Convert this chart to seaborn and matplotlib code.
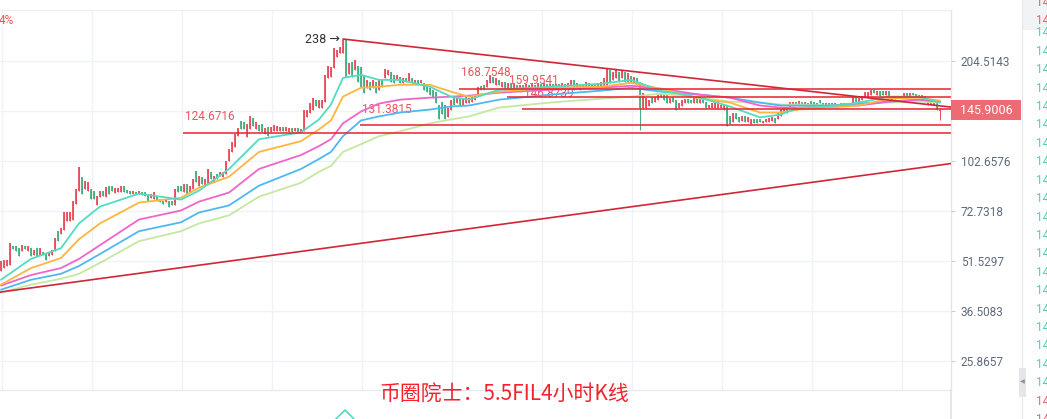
import matplotlib
matplotlib.use("Agg")
import matplotlib.pyplot as plt
from matplotlib.patches import Rectangle
from matplotlib.lines import Line2D
from matplotlib.ticker import NullLocator
import numpy as np
import pandas as pd
import seaborn as sns

# ---- FIL 4h candles ----
opens = [
    48.1, 49.1, 49.8, 50.2, 57.1, 57.1, 56.3, 55.2, 57.1, 55.2,
    56.3, 53.7, 56.3, 53.7, 54.8, 54.4, 53.3, 53.7, 55.2, 63.3,
    62.0, 63.7, 67.7, 67.7, 68.2, 76.6, 83.7, 92.1, 84.8, 83.7,
    84.8, 83.7, 75.6, 80.3, 83.7, 80.3, 86.6, 86.6, 82.6, 83.2,
    83.2, 86.6, 84.3, 83.7, 82.0, 83.2, 82.0, 83.2,
    83.2, 82.0, 79.7, 79.2, 80.3, 79.2, 78.2, 77.6, 78.2, 78.2,
    75.6, 86.6, 86.6, 83.2, 87.8, 83.2, 84.8, 95.9, 86.6, 92.1,
    86.6, 87.8, 95.3, 89.0, 94.0, 92.7, 92.1, 94.0, 102.7, 109.3,
    113.0, 121.8, 134.9, 134.0, 121.0, 127.7, 137.7, 127.7, 131.3, 132.2,
    123.4, 129.5, 125.1, 126.0, 126.0, 126.0, 129.5, 126.0, 125.1, 128.6,
    126.0, 128.6, 125.1, 126.0, 138.7, 143.4, 146.4, 156.7, 148.4, 148.4,
    154.6, 182.1, 183.4, 195.0, 210.1, 215.9, 215.9, 235.9, 187.2, 203.1,
    192.3, 198.3, 196.3, 185.9, 170.1, 177.2, 170.1, 177.2, 167.8, 179.6,
    182.1, 186.0, 189.8, 186.0, 179.6, 183.4, 176.0, 182.1, 177.2, 182.1,
    176.0, 179.6, 176.0, 176.0, 173.6, 170.1, 167.8, 165.6, 151.5, 154.6,
    151.5, 138.7, 146.4, 160.0, 153.6, 158.9, 151.5, 153.6, 153.6, 154.6,
    156.7, 162.2, 172.5, 173.6, 171.3, 176.0, 183.4, 173.6, 179.6, 171.3,
    177.2, 170.1, 176.0, 170.1, 173.6, 170.1, 173.6, 169.0, 173.6, 170.1,
    173.6, 170.1, 174.8, 170.1, 174.8, 170.1, 174.8, 170.1, 174.8, 170.1,
    174.8, 170.1, 172.5, 179.6, 170.1, 173.6, 170.1, 170.1, 176.0, 170.1,
    174.8, 171.3, 171.3, 172.5, 171.3, 192.3, 179.6, 182.1, 189.8, 182.1,
    189.8, 177.2, 184.7, 176.0, 182.1, 177.2, 148.4, 148.4, 149.5, 160.0,
    154.6, 156.7, 164.4, 164.4, 162.2, 153.6, 160.0, 156.7, 148.4, 149.5,
    153.6, 157.8, 156.7, 153.6, 158.9, 153.6, 157.8, 154.6, 148.4, 148.4,
    148.4, 148.4, 148.4, 146.4, 149.5, 139.6, 133.9, 143.4, 138.7, 134.9,
    139.6, 133.9, 132.2, 136.7, 136.7, 136.7, 133.1, 133.9, 133.9, 134.9,
    137.7, 136.7, 139.6, 143.4, 148.4, 148.4, 149.5, 154.6, 151.5, 154.6,
    151.5, 153.6, 155.6, 154.6, 150.5, 156.7, 153.6, 149.5, 153.6, 149.5,
    149.5, 149.5, 153.6, 149.5, 153.6, 150.5, 151.5, 160.0, 154.6, 156.7,
    160.0, 160.0, 162.2, 167.8, 162.2, 166.7, 166.7, 162.2, 166.7, 161.1,
    157.8, 161.1, 161.1, 160.0, 164.4, 160.0, 164.4, 163.3, 162.2, 162.2,
    161.1, 151.5, 151.5, 151.5, 154.6, 145.0,
]
closes = [
    51.6, 51.9, 51.9, 58.3, 55.9, 55.2, 53.3, 57.5, 55.9, 57.1,
    53.3, 55.6, 53.3, 56.3, 53.7, 51.9, 54.8, 55.6, 60.3, 59.1,
    64.6, 72.5, 72.5, 72.5, 78.2, 84.8, 98.6, 82.0, 89.6, 89.0,
    79.2, 79.2, 80.8, 83.7, 80.8, 86.0, 82.0, 83.7, 85.4, 85.4,
    86.6, 83.2, 82.6, 82.0, 83.7, 82.0, 83.7, 81.4,
    80.8, 78.2, 82.0, 83.2, 78.2, 77.6, 76.6, 79.2, 75.0, 75.6,
    84.8, 83.2, 83.7, 87.8, 82.0, 86.6, 90.8, 89.0, 92.7, 87.8,
    90.8, 97.2, 90.8, 92.7, 90.8, 95.3, 95.3, 102.7, 111.4, 116.9,
    123.4, 128.6, 127.7, 127.7, 132.2, 139.6, 130.4, 134.0, 126.0, 125.1,
    128.6, 121.8, 129.5, 131.3, 130.4, 129.5, 126.0, 129.5, 128.6, 125.1,
    128.6, 125.1, 127.7, 146.4, 146.4, 153.6, 158.9, 149.5, 156.7, 156.7,
    185.9, 198.3, 196.3, 223.4, 220.4, 224.9, 235.9, 183.4, 201.8, 183.4,
    205.9, 177.2, 171.3, 164.4, 179.6, 167.8, 179.6, 164.4, 179.6, 171.3,
    193.7, 192.3, 177.2, 176.0, 186.0, 176.0, 182.1, 177.2, 188.5, 176.0,
    179.6, 173.6, 179.6, 167.8, 165.6, 162.2, 158.9, 153.6, 136.7, 141.5,
    136.7, 148.4, 156.7, 151.5, 158.9, 151.5, 158.9, 160.0, 158.9, 160.0,
    161.1, 171.3, 167.8, 167.8, 179.6, 185.9, 176.0, 182.1, 173.6, 177.2,
    170.1, 176.0, 167.8, 176.0, 167.8, 173.6, 167.8, 174.8, 167.8, 176.0,
    169.0, 176.0, 170.1, 176.0, 169.0, 174.8, 167.8, 174.8, 169.0, 176.0,
    170.1, 176.0, 179.6, 167.8, 176.0, 167.8, 174.8, 177.2, 169.0, 174.8,
    170.1, 176.0, 177.2, 182.1, 195.0, 176.0, 189.8, 192.3, 177.2, 192.3,
    177.2, 188.5, 177.2, 183.4, 173.6, 148.4, 164.4, 158.9, 156.7, 153.6,
    160.0, 164.4, 160.0, 156.7, 153.6, 158.9, 154.6, 146.4, 153.6, 156.7,
    157.8, 153.6, 153.6, 158.9, 153.6, 157.8, 153.6, 148.4, 151.5, 153.6,
    153.6, 156.7, 151.5, 151.5, 130.4, 132.2, 143.4, 136.7, 133.9, 139.6,
    133.9, 138.7, 136.7, 133.1, 133.1, 133.9, 134.9, 136.7, 137.7, 138.7,
    133.1, 143.4, 147.4, 148.4, 143.4, 154.6, 154.6, 151.5, 155.6, 151.5,
    154.6, 149.5, 149.5, 151.5, 153.6, 153.6, 148.4, 153.6, 149.5, 153.6,
    153.6, 152.5, 149.5, 153.6, 149.5, 153.6, 160.0, 154.6, 158.9, 161.1,
    165.6, 165.6, 167.8, 164.4, 166.7, 161.1, 162.2, 166.7, 160.0, 156.7,
    161.1, 158.9, 158.9, 164.4, 161.1, 164.4, 162.2, 160.0, 160.0, 158.9,
    156.7, 156.7, 154.6, 154.6, 146.4, 145.9,
]

# candles with long shadows
wick_idx = [114, 213, 313]
wick_high = [238.0, 177.2, 147.5]
wick_low = [215.9, 127.5, 136.5]

# moving averages, sampled along the chart
ma_idx = [0, 10, 20, 26, 33, 46, 60, 66, 76, 86, 100, 106, 110, 114, 120, 126, 133,
          143, 150, 156, 166, 183, 200, 210, 220, 233, 243, 253, 260, 266, 276, 286,
          296, 306, 313]
ma_teal = [45.3, 52.3, 56.3, 66.8, 75.0, 82.0, 78.7, 83.7, 97.2, 119.3, 125.1, 136.7,
           151.5, 182.1, 185.9, 179.6, 179.6, 171.3, 160.0, 156.7, 167.8, 171.3, 174.8,
           179.6, 166.7, 158.9, 149.5, 138.7, 141.5, 148.4, 149.5, 153.6, 160.0, 160.0, 153.6]
ma_orange = [43.8, 49.1, 52.6, 59.9, 66.8, 77.1, 79.7, 85.4, 92.1, 109.3, 117.7, 127.7,
             135.8, 160.0, 170.1, 171.3, 173.6, 173.6, 165.6, 160.0, 165.6, 170.1, 171.3,
             176.0, 169.0, 157.8, 153.6, 143.4, 143.4, 146.4, 148.4, 150.5, 157.8, 158.9, 155.6]
ma_pink = [43.5, 46.8, 49.1, 52.3, 57.5, 68.6, 73.0, 77.6, 82.6, 97.2, 107.0, 113.8,
           119.3, 133.1, 144.4, 152.5, 156.7, 158.9, 160.0, 161.1, 164.4, 167.8, 170.1,
           172.5, 169.0, 162.2, 158.9, 150.5, 148.4, 148.4, 149.5, 150.5, 154.6, 156.7, 154.6]
ma_blue = [42.3, 45.3, 47.2, 49.8, 54.1, 63.3, 67.3, 72.0, 75.6, 86.6, 97.2, 104.1,
           109.3, 121.8, 135.8, 139.6, 143.4, 146.4, 149.5, 150.5, 156.7, 162.2, 166.7,
           170.1, 165.6, 162.2, 158.9, 153.6, 150.5, 150.5, 150.5, 152.5, 154.6, 156.7, 154.6]
ma_green = [41.5, 43.8, 45.6, 47.2, 50.9, 59.1, 63.3, 66.8, 70.6, 80.3, 88.4, 95.3,
            99.3, 109.3, 115.3, 121.8, 126.0, 133.1, 136.7, 139.6, 148.4, 153.6, 157.8,
            160.0, 163.3, 158.9, 154.6, 153.6, 151.5, 151.5, 150.5, 152.5, 153.6, 154.6, 153.6]

# support / resistance levels and the candle where each starts
level_values = [124.6716, 131.3815, 168.7548, 159.9541, 146.8739]
level_start = [60.7, 119.7, 152.7, 168.7, 173.7]

# triangle trend lines
trend_down_idx = [114, 316.7]
trend_down_val = [238.0, 148.9]
trend_up_idx = [-0.33, 316.7]
trend_up_val = [41.6, 100.9]

# lower pane indicator (only its peak is visible)
lower_idx = [111.3, 114.7, 118.0]
lower_val = [-1.0, 9.0, -1.0]

peak_value = 238
last_price = 145.9006
tick_values = [25.8657, 36.5083, 51.5297, 72.7318, 102.6576, 144.8966, 204.5143]
title = '币圈院士：5.5FIL4小时K线'

RED = '#ea4d5b'
GREEN = '#3fb27f'
LEVEL = '#e8222c'
TREND = '#d02638'
MA_COLORS = {'teal': '#52dcc0', 'orange': '#ffb53f', 'pink': '#f165c8',
             'blue': '#4db8f2', 'green': '#c4e8a0'}

sns.set_theme(style='white')
plt.rcParams['font.family'] = ['Roboto', 'DejaVu Sans']

W, H = 1047, 419
fig = plt.figure(figsize=(W / 100, H / 100), dpi=100)
fig.patch.set_facecolor('white')


def fx(px):
    return px / W


def fy(py):
    return 1 - py / H


ax = fig.add_axes([0, fy(390), fx(951), fy(10) - fy(390)])
ax.set_yscale('log')

# candles
idx = np.arange(len(opens))
o = np.array(opens)
c = np.array(closes)
body_lo = np.minimum(o, c)
body_hi = np.maximum(o, c)
hi = body_hi.copy()
lo = body_lo.copy()
hi[wick_idx] = np.maximum(hi[wick_idx], wick_high)
lo[wick_idx] = np.minimum(lo[wick_idx], wick_low)
cols = np.where(c >= o, RED, GREEN)
ax.vlines(idx, lo, hi, colors=cols, lw=0.75, zorder=3)
ax.vlines(idx, body_lo, body_hi, colors=cols, lw=1.3, zorder=3)

# moving averages
names = ['green', 'blue', 'pink', 'orange', 'teal']
vals = {'teal': ma_teal, 'orange': ma_orange, 'pink': ma_pink, 'blue': ma_blue, 'green': ma_green}
ma = pd.DataFrame({
    'idx': ma_idx * len(names),
    'price': sum((vals[n] for n in names), []),
    'line': sum(([n] * len(ma_idx) for n in names), []),
})
sns.lineplot(data=ma, x='idx', y='price', hue='line', hue_order=names, palette=MA_COLORS,
             estimator=None, sort=False, lw=1.3, legend=False, ax=ax, zorder=4)

# levels
x_right = 316.7
for v, s in zip(level_values, level_start):
    ax.hlines(v, s, x_right, color=LEVEL, lw=1.1, zorder=5)
    ax.annotate(f'{v:.4f}', (s, v), xytext=(1.5, 11.5), textcoords='offset points',
                ha='left', va='center', color='#f0525c', fontsize=8.5, zorder=2)

ax.plot(trend_down_idx, trend_down_val, color=TREND, lw=1.2, zorder=5)
ax.plot(trend_up_idx, trend_up_val, color=TREND, lw=1.2, zorder=5)

ax.annotate(f'{peak_value} →', (trend_down_idx[0], peak_value), xytext=(-2.5, 0),
            textcoords='offset points', ha='right', va='center', color='#333333',
            fontsize=9, family=['Roboto', 'DejaVu Sans'])

ax.set_xlim(-0.33, x_right)
ax.set_ylim(21.19, 290.7)
ax.set_xlabel('')
ax.set_ylabel('')

# grid and right axis
ax.set_xticks(np.arange(0.33, x_right, 30))
ax.yaxis.set_minor_locator(NullLocator())
ax.set_yticks(tick_values)
ax.set_yticklabels(['' if abs(t - 144.8966) < 0.01 else f'{t:.4f}' for t in tick_values])
ax.grid(True, color='#eff2f6', lw=1.0)
ax.set_axisbelow(True)
ax.tick_params(axis='x', length=0, labelbottom=False, bottom=False)
ax.tick_params(axis='y', left=False, labelleft=False, right=True, labelright=True,
               length=3, width=0.8, color='#c9ced6', labelcolor='#5f6a7a',
               labelsize=8.5, pad=4, direction='out')
ax.spines['left'].set_visible(False)
ax.spines['top'].set_color('#eceff3')
ax.spines['right'].set_color('#e0e3e8')
ax.spines['bottom'].set_color('#e6e9ee')
for sp in ax.spines.values():
    sp.set_linewidth(0.9)

# lower pane
ax2 = fig.add_axes([0, 0, fx(951), 29 / H])
ax2.set_xlim(-0.33, x_right)
ax2.set_ylim(0, 29)
ax2.plot(lower_idx, lower_val, color=MA_COLORS['teal'], lw=1.2)
ax2.set_xticks([])
ax2.set_yticks([])
ax2.patch.set_alpha(0)
for k in ['left', 'top', 'bottom']:
    ax2.spines[k].set_visible(False)
ax2.spines['right'].set_color('#e0e3e8')

# current price tag
fig.add_artist(Rectangle((fx(951), fy(120)), fx(70), 20 / H, transform=fig.transFigure,
                         fc='#ef6b74', ec='none', zorder=10))
fig.text(fx(986), fy(110.5), f'{last_price:.4f}', color='white', ha='center', va='center',
         fontsize=9, zorder=11)

fig.text(fx(13.5), fy(20), '4%', ha='right', va='center', color='#ef5350', fontsize=8.5)

fig.text(fx(504), fy(394), title, family=['Noto Sans CJK SC', 'DejaVu Sans'], fontsize=15,
         color='#f5222d', ha='center', va='center', zorder=12)

# right side panel (cut off)
fig.add_artist(Rectangle((fx(1022), fy(30)), fx(25), 30 / H, transform=fig.transFigure,
                         fc='#f2f3f5', ec='none'))
fig.add_artist(Line2D([fx(1021.5)] * 2, [0, 1], transform=fig.transFigure,
                      color='#e6e8eb', lw=0.8))
rows = [2, 21] + list(np.arange(33, 425, 18.4))
for k, yy in enumerate(rows):
    col = '#e8606c' if (k < 2 or yy > 390) else '#4ccfae'
    fig.text(fx(1036), fy(yy), '14', color=col, fontsize=8.5, ha='left', va='center')
fig.add_artist(Rectangle((fx(1019), fy(397)), fx(7), 29 / H, transform=fig.transFigure,
                         fc='#e4e6e9', ec='none', zorder=5))
fig.text(fx(1022.5), fy(382), '◀', family=['DejaVu Sans'], fontsize=4.5, color='#8a8f96',
         ha='center', va='center', zorder=6)

fig.savefig('out.png', dpi=100, facecolor='white')
